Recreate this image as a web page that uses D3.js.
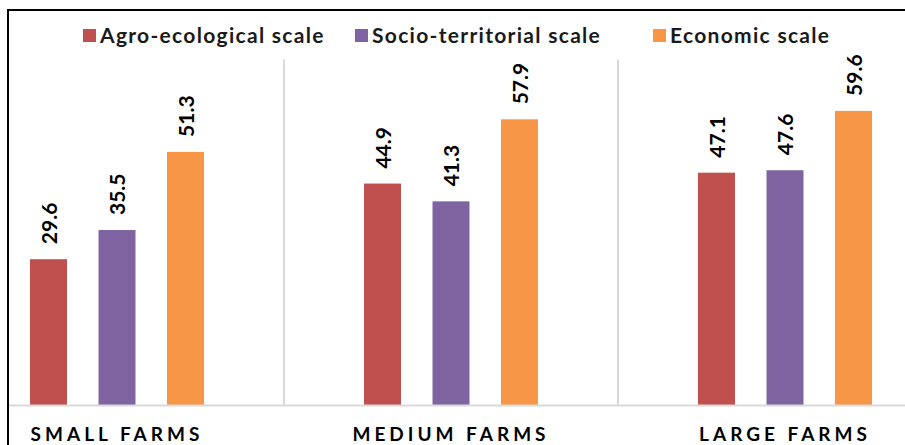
<!DOCTYPE html>
<html>
<head>
<meta charset="utf-8">
<script src="https://cdn.jsdelivr.net/npm/d3@7"></script>
<style>
  html, body { margin: 0; padding: 0; background: #fff; }
  svg { display: block; }
  text { font-family: Lato, "Open Sans", sans-serif; }
</style>
</head>
<body>
<svg id="chart" width="905" height="445"></svg>
<script>
// Farm size categories and the three sustainability scales
const categories = ["SMALL FARMS", "MEDIUM FARMS", "LARGE FARMS"];
const seriesNames = ["Agro-ecological scale", "Socio-territorial scale", "Economic scale"];
const agroEcological = [29.6, 44.9, 47.1];
const socioTerritorial = [35.5, 41.3, 47.6];
const economic = [51.3, 57.9, 59.6];
const seriesColors = ["#C0504D", "#8064A2", "#F79646"];

const seriesValues = [agroEcological, socioTerritorial, economic];
const rows = categories.map((c, i) => ({
  category: c,
  values: seriesNames.map((s, j) => ({ series: s, value: seriesValues[j][i] }))
}));

const width = 905, height = 445;
const svg = d3.select("#chart");

const plotTop = 59.5, plotBottom = 405.5;

const x = d3.scaleBand().domain(categories).range([-50, 952]).padding(0);
const groupSpan = 205.5;
const xInner = d3.scaleBand()
  .domain(seriesNames)
  .range([(x.bandwidth() - groupSpan) / 2, (x.bandwidth() + groupSpan) / 2])
  .paddingInner(0.46)
  .paddingOuter(0.23);
const y = d3.scaleLinear().domain([0, 70]).range([plotBottom, plotTop]);
const color = d3.scaleOrdinal().domain(seriesNames).range(seriesColors);

// Category separators
svg.append("g")
  .selectAll("line")
  .data(categories.slice(1))
  .join("line")
  .attr("x1", d => x(d)).attr("x2", d => x(d))
  .attr("y1", plotTop).attr("y2", plotBottom)
  .attr("stroke", "#d9d9d9").attr("stroke-width", 2);

// Bars
const groups = svg.append("g")
  .selectAll("g")
  .data(rows)
  .join("g")
  .attr("transform", d => `translate(${x(d.category)},0)`);

groups.selectAll("rect")
  .data(d => d.values)
  .join("rect")
  .attr("x", d => xInner(d.series))
  .attr("width", xInner.bandwidth())
  .attr("y", d => y(d.value))
  .attr("height", d => y(0) - y(d.value))
  .attr("fill", d => color(d.series));

// Value labels, rotated above each bar
groups.selectAll("text.val")
  .data(d => d.values)
  .join("text")
  .attr("class", "val")
  .attr("transform", d => `translate(${xInner(d.series) + xInner.bandwidth() / 2 + 8},${y(d.value) - 15}) rotate(-90)`)
  .attr("text-anchor", "start")
  .attr("font-size", 21)
  .attr("font-weight", 700)
  .attr("fill", "#000")
  .text(d => d.value.toFixed(1));

// Category axis along the baseline
const xAxis = svg.append("g")
  .attr("transform", `translate(0,${plotBottom})`)
  .call(d3.axisBottom(x).tickSize(0).tickPadding(22));
xAxis.select(".domain").remove();
svg.append("line")
  .attr("x1", 8).attr("x2", width)
  .attr("y1", plotBottom).attr("y2", plotBottom)
  .attr("stroke", "#d9d9d9").attr("stroke-width", 2);
xAxis.selectAll("text")
  .attr("font-family", "Lato, 'Open Sans', sans-serif")
  .attr("font-size", 19)
  .attr("font-weight", 700)
  .attr("letter-spacing", "4px")
  .attr("fill", "#000");

// Legend
const legendX = [83, 355, 653];
const legend = svg.append("g")
  .selectAll("g")
  .data(seriesNames)
  .join("g")
  .attr("transform", (d, i) => `translate(${legendX[i]},29)`);
legend.append("rect")
  .attr("width", 13).attr("height", 13)
  .attr("fill", d => color(d));
legend.append("text")
  .attr("x", 17).attr("y", 14)
  .attr("font-family", "'Open Sans', Lato, sans-serif")
  .attr("font-size", 21)
  .attr("font-weight", 700)
  .attr("letter-spacing", "1.3px")
  .attr("fill", "#1a1a1a")
  .text(d => d);

// Frame
svg.append("path")
  .attr("d", `M${width},10 H8 V${height}`)
  .attr("fill", "none")
  .attr("stroke", "#000")
  .attr("stroke-width", 2);
</script>
</body>
</html>
